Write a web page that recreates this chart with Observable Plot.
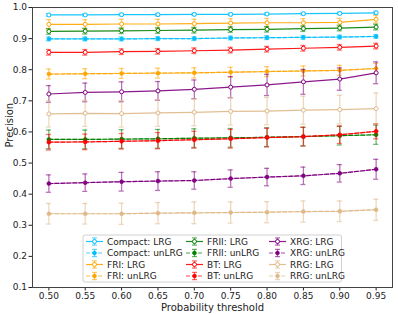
<!DOCTYPE html>
<html><head><meta charset="utf-8">
<script src="https://cdn.jsdelivr.net/npm/d3@7"></script>
<script src="https://cdn.jsdelivr.net/npm/@observablehq/plot@0.6"></script>
<style>body{margin:0;background:#fff}</style>
</head><body><div id="chart"></div>
<script>
const thresholds = [0.50,0.55,0.60,0.65,0.70,0.75,0.80,0.85,0.90,0.95];
const yTicks = [0.1,0.2,0.3,0.4,0.5,0.6,0.7,0.8,0.9,1.0];

const seriesNames = ["Compact: LRG","Compact: unLRG","FRI: LRG","FRI: unLRG","FRII: LRG","FRII: unLRG","BT: LRG","BT: unLRG","XRG: LRG","XRG: unLRG","RRG: LRG","RRG: unLRG"];
const seriesColors = ["#00bfff","#00bfff","#ffa500","#ffa500","#008000","#008000","#ff0000","#ff0000","#800080","#800080","#deb887","#deb887"];
const seriesIsLRG = [true,false,true,false,true,false,true,false,true,false,true,false];

const compactLRG = [0.976,0.976,0.977,0.977,0.978,0.978,0.979,0.980,0.981,0.983];
const compactUn  = [0.899,0.899,0.899,0.900,0.900,0.902,0.903,0.904,0.905,0.907];
const friLRG     = [0.946,0.946,0.947,0.947,0.948,0.950,0.951,0.951,0.952,0.962];
const friUn      = [0.786,0.787,0.788,0.789,0.790,0.792,0.794,0.796,0.798,0.804];
const friiLRG    = [0.923,0.924,0.925,0.926,0.927,0.929,0.930,0.932,0.934,0.937];
const friiUn     = [0.576,0.576,0.577,0.578,0.580,0.581,0.583,0.585,0.588,0.591];
const btLRG      = [0.856,0.856,0.858,0.859,0.861,0.863,0.866,0.869,0.872,0.876];
const btUn       = [0.567,0.568,0.570,0.572,0.575,0.578,0.582,0.585,0.591,0.602];
const xrgLRG     = [0.722,0.727,0.729,0.732,0.737,0.744,0.751,0.761,0.770,0.790];
const xrgUn      = [0.434,0.437,0.440,0.442,0.444,0.450,0.455,0.459,0.467,0.480];
const rrgLRG     = [0.658,0.660,0.659,0.661,0.663,0.666,0.667,0.670,0.672,0.675];
const rrgUn      = [0.337,0.337,0.337,0.339,0.340,0.341,0.342,0.344,0.345,0.350];

const compactLRGErr = [0.004,0.004,0.004,0.004,0.004,0.004,0.004,0.004,0.004,0.005];
const compactUnErr  = [0.006,0.006,0.006,0.006,0.006,0.006,0.006,0.006,0.006,0.006];
const friLRGErr     = [0.015,0.015,0.015,0.015,0.014,0.014,0.014,0.013,0.013,0.012];
const friUnErr      = [0.016,0.016,0.016,0.016,0.016,0.016,0.016,0.016,0.016,0.016];
const friiLRGErr    = [0.009,0.009,0.009,0.009,0.009,0.009,0.009,0.009,0.009,0.009];
const friiUnErr     = [0.030,0.030,0.030,0.030,0.030,0.030,0.030,0.030,0.030,0.031];
const btLRGErr      = [0.009,0.009,0.009,0.009,0.009,0.009,0.009,0.009,0.009,0.009];
const btUnErr       = [0.025,0.025,0.025,0.026,0.027,0.030,0.030,0.030,0.028,0.024];
const xrgLRGErr     = [0.027,0.030,0.032,0.030,0.030,0.034,0.034,0.040,0.036,0.035];
const xrgUnErr      = [0.028,0.028,0.030,0.030,0.028,0.028,0.028,0.028,0.028,0.032];
const rrgLRGErr     = [0.042,0.042,0.043,0.043,0.043,0.044,0.044,0.045,0.046,0.050];
const rrgUnErr      = [0.033,0.033,0.034,0.034,0.035,0.034,0.034,0.034,0.033,0.034];

const seriesValues = [compactLRG,compactUn,friLRG,friUn,friiLRG,friiUn,btLRG,btUn,xrgLRG,xrgUn,rrgLRG,rrgUn];
const seriesErrors = [compactLRGErr,compactUnErr,friLRGErr,friUnErr,friiLRGErr,friiUnErr,btLRGErr,btUnErr,xrgLRGErr,xrgUnErr,rrgLRGErr,rrgUnErr];

const capHalf = 0.0035;
const marks = [];
seriesNames.forEach((name, i) => {
  const rows = thresholds.map((x, j) => ({x, y: seriesValues[i][j], e: seriesErrors[i][j]}));
  const c = seriesColors[i];
  marks.push(Plot.ruleX(rows, {x: "x", y1: d => d.y - d.e, y2: d => d.y + d.e, stroke: c, strokeOpacity: 0.55, strokeWidth: 1.3}));
  marks.push(Plot.ruleY(rows, {y: d => d.y + d.e, x1: d => d.x - capHalf, x2: d => d.x + capHalf, stroke: c, strokeOpacity: 0.55, strokeWidth: 1.3}));
  marks.push(Plot.ruleY(rows, {y: d => d.y - d.e, x1: d => d.x - capHalf, x2: d => d.x + capHalf, stroke: c, strokeOpacity: 0.55, strokeWidth: 1.3}));
  if (seriesIsLRG[i]) {
    marks.push(Plot.line(rows, {x: "x", y: "y", stroke: c, strokeWidth: 1.2, strokeOpacity: 0.9}));
    marks.push(Plot.dot(rows, {x: "x", y: "y", r: 2, fill: "white", stroke: c, strokeWidth: 1}));
  } else {
    marks.push(Plot.line(rows, {x: "x", y: "y", stroke: c, strokeWidth: 1.2, strokeOpacity: 0.4}));
    marks.push(Plot.line(rows, {x: "x", y: "y", stroke: c, strokeWidth: 1.2, strokeDasharray: "4,2"}));
    marks.push(Plot.dot(rows, {x: "x", y: "y", r: 2, fill: c, stroke: c, strokeWidth: 0.5}));
  }
});

const chart = Plot.plot({
  width: 398, height: 315,
  marginLeft: 32, marginRight: 6, marginTop: 7, marginBottom: 28,
  style: {fontFamily: "DejaVu Sans", fontSize: "9px", background: "white", color: "#222"},
  x: {domain: [0.4775, 0.9725]},
  y: {domain: [0.1, 1.0]},
  marks: [
    ...marks,
    Plot.axisX({ticks: thresholds, tickFormat: d3.format(".2f"), tickSize: 3.5, tickPadding: 2, label: null}),
    Plot.axisY({ticks: yTicks, tickFormat: d3.format(".1f"), tickSize: 3.5, tickPadding: 2, label: null}),
    Plot.text(["Probability threshold"], {frameAnchor: "bottom", dy: 23, fontSize: 10, fill: "#222"}),
    Plot.text(["Precision"], {frameAnchor: "left", dx: -23, rotate: -90, fontSize: 10, fill: "#222"}),
    Plot.frame({stroke: "#444", strokeWidth: 1})
  ]
});
document.getElementById("chart").appendChild(chart);

// legend drawn inside the plot frame
const svg = d3.select(chart);
const lg = svg.append("g").attr("font-family", "DejaVu Sans").attr("font-size", 9).attr("text-anchor", "start");
lg.append("rect").attr("x", 83).attr("y", 235).attr("width", 258.5).attr("height", 47)
  .attr("rx", 2).attr("fill", "white").attr("fill-opacity", 0.85).attr("stroke", "#d0d0d0");
const colX = [86, 186, 269];
const rowY = [241.5, 253, 264.5, 276];
seriesNames.forEach((name, i) => {
  const cx0 = colX[Math.floor(i / 4)], cy = rowY[i % 4], c = seriesColors[i];
  const g = lg.append("g");
  const mid = cx0 + 8.5;
  g.append("line").attr("x1", cx0).attr("x2", cx0 + 17).attr("y1", cy).attr("y2", cy)
    .attr("stroke", c).attr("stroke-width", 1.2).attr("stroke-opacity", seriesIsLRG[i] ? 0.9 : 0.7)
    .attr("stroke-dasharray", seriesIsLRG[i] ? null : "4,2");
  g.append("line").attr("x1", mid).attr("x2", mid).attr("y1", cy - 3.6).attr("y2", cy + 3.6)
    .attr("stroke", c).attr("stroke-opacity", 0.6).attr("stroke-width", 1.2);
  [cy - 3.6, cy + 3.6].forEach(yy => g.append("line").attr("x1", mid - 2.5).attr("x2", mid + 2.5)
    .attr("y1", yy).attr("y2", yy).attr("stroke", c).attr("stroke-opacity", 0.6).attr("stroke-width", 1.2));
  g.append("circle").attr("cx", mid).attr("cy", cy).attr("r", 2)
    .attr("fill", seriesIsLRG[i] ? "white" : c).attr("stroke", c).attr("stroke-width", seriesIsLRG[i] ? 1 : 0.5);
  g.append("text").attr("x", cx0 + 21).attr("y", cy).attr("dy", "0.35em").attr("text-anchor", "start").attr("fill", "#222").text(name);
});
</script>
</body></html>
